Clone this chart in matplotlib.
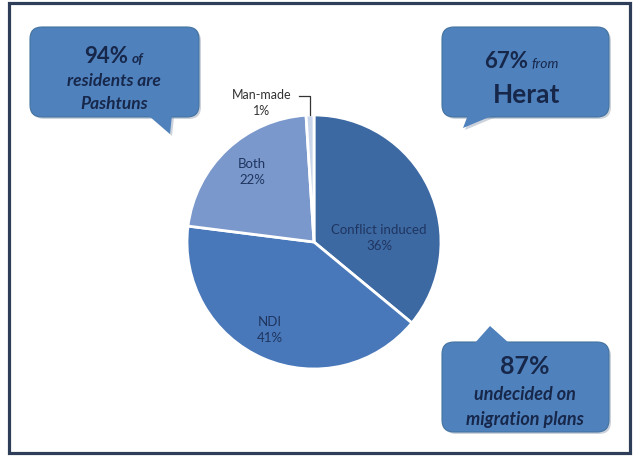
import matplotlib
matplotlib.use('Agg')
import matplotlib.pyplot as plt
from matplotlib.patches import FancyBboxPatch, Polygon, Rectangle

plt.rcParams['font.family'] = ['Lato', 'DejaVu Sans']

# pie data (clockwise from 12 o'clock)
causes = ['Conflict induced', 'NDI', 'Both', 'Man-made']
shares = [36, 41, 22, 1]
slice_colors = ['#3d69a3', '#4878b9', '#7a98cb', '#c9d5ea']

# callout texts
callout_big = ['94%', '67%', '87%']
callout_small = ['of', 'from', '']

fig = plt.figure(figsize=(6.36, 4.62), dpi=100)
fig.patch.set_facecolor('white')

# pie axes
cx, cy, r = 314, 242, 127
half = 135
pax = fig.add_axes([(cx - half) / 636, (462 - cy - half) / 462,
                    2 * half / 636, 2 * half / 462])
pax.pie(shares, colors=slice_colors, startangle=90, counterclock=False,
        wedgeprops=dict(edgecolor='white', linewidth=2))
pax.set_xlim(-half / r, half / r)
pax.set_ylim(-half / r, half / r)
pax.axis('off')

# overlay axes in pixel coordinates (y downwards), on top of the pie
ax = fig.add_axes([0, 0, 1, 1])
ax.set_zorder(5)
ax.set_xlim(0, 636)
ax.set_ylim(462, 0)
ax.axis('off')

ax.add_patch(Rectangle((9, 3), 621, 450, fill=False, edgecolor='#2f3e58', lw=2.3))

box_col = '#4f81bd'
txt_col = '#17274a'

def callout(x0, y0, x1, y1, tail):
    sh = [(x + 2, y + 2) for x, y in tail]
    ax.add_patch(FancyBboxPatch((x0 + 2, y0 + 2), x1 - x0, y1 - y0,
                                boxstyle='round,pad=0,rounding_size=12',
                                facecolor='#9aa6b8', edgecolor='none', alpha=0.5))
    ax.add_patch(Polygon(sh, closed=True, facecolor='#9aa6b8', edgecolor='none', alpha=0.5))
    ax.add_patch(FancyBboxPatch((x0, y0), x1 - x0, y1 - y0,
                                boxstyle='round,pad=0,rounding_size=12',
                                facecolor=box_col, edgecolor='#44739f', lw=0.8))
    ax.add_patch(Polygon(tail, closed=True, facecolor=box_col, edgecolor='none'))

callout(30, 27, 199, 117, [(148, 115), (172, 115), (170, 134)])
callout(442, 27, 609, 117, [(468, 115), (494, 115), (463, 128)])
callout(442, 342, 609, 432, [(474, 344), (510, 344), (490, 326)])

# box 1
ax.text(128, 63, callout_big[0], ha='right', va='baseline', fontsize=16,
        fontweight='bold', color=txt_col)
ax.text(132, 63, callout_small[0], ha='left', va='baseline', fontsize=10,
        fontweight='bold', style='italic', color=txt_col)
ax.text(114, 81, 'residents are', ha='center', va='center', fontsize=12.5,
        fontweight='bold', style='italic', color=txt_col)
ax.text(114, 104, 'Pashtuns', ha='center', va='center', fontsize=12.5,
        fontweight='bold', style='italic', color=txt_col)

# box 2
ax.text(528, 68, callout_big[1], ha='right', va='baseline', fontsize=16,
        fontweight='bold', color=txt_col)
ax.text(531, 68, callout_small[1], ha='left', va='baseline', fontsize=10,
        style='italic', color=txt_col)
ax.text(527, 95, 'Herat', ha='center', va='center', fontsize=19,
        fontweight='bold', color=txt_col)

# box 3
ax.text(525, 367, callout_big[2], ha='center', va='center', fontsize=18,
        fontweight='bold', color=txt_col)
ax.text(525, 395, 'undecided on', ha='center', va='center', fontsize=13,
        fontweight='bold', style='italic', color=txt_col)
ax.text(525, 420, 'migration plans', ha='center', va='center', fontsize=13,
        fontweight='bold', style='italic', color=txt_col)

lab_col = '#1f3560'
lab_pos = [(379, 238), (270, 330), (252, 172)]
for (x, y), name, v in zip(lab_pos, causes[:3], shares[:3]):
    ax.text(x, y, f'{name}\n{v}%', ha='center', va='center', fontsize=9.5,
            color=lab_col, linespacing=1.5)

ax.text(262, 103, f'{causes[3]}\n{shares[3]}%', ha='center', va='center',
        fontsize=9, color='#333333', linespacing=1.4)
ax.plot([299, 310, 310], [96, 96, 115], color='#333333', lw=0.9)

fig.savefig('out.png', dpi=100)
